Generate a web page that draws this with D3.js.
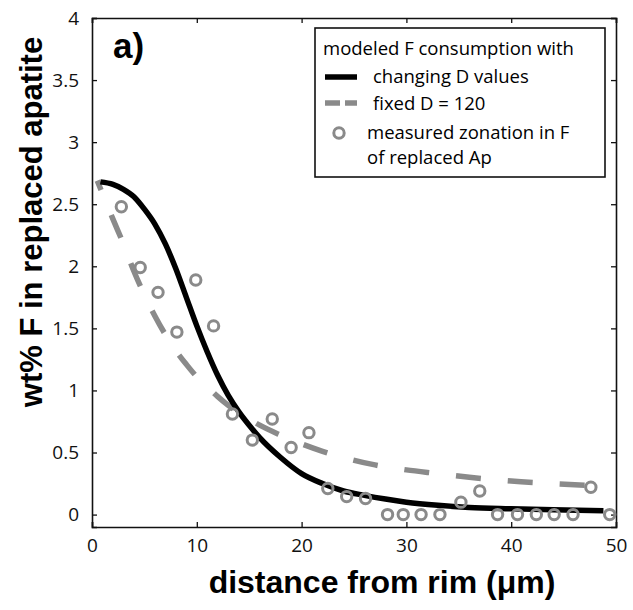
<!DOCTYPE html>
<html lang="en">
  <head>
    <meta charset="utf-8">
    <title>F consumption</title>
    <script src="https://d3js.org/d3.v7.min.js"></script>
    <style>
      body { margin: 0; background: #fff; }
    </style>
  </head>
<body>
  <svg id="chart" width="633" height="610"></svg>
  <script>
    // measured zonation (circles)
    var measX = [2.8, 4.6, 6.3, 8.1, 9.9, 11.6, 13.4, 15.3, 17.2, 19.0, 20.7, 22.5, 24.3, 26.1,
                 28.2, 29.7, 31.4, 33.2, 35.2, 37.0, 38.7, 40.6, 42.4, 44.1, 45.9, 47.6, 49.4];
    var measY = [2.48, 1.99, 1.79, 1.47, 1.89, 1.52, 0.81, 0.60, 0.77, 0.54, 0.66, 0.21, 0.145, 0.13,
                 0, 0, 0, 0, 0.10, 0.19, 0, 0, 0, 0, 0, 0.22, 0];

    // model with changing D values (black)
    var changingX = [0.8, 2, 3, 4, 5, 6, 7, 8, 9, 10, 11, 12, 13, 14, 15, 16, 18, 20, 22, 24, 26, 28, 30, 33, 36, 40, 44, 48.8];
    var changingY = [2.68, 2.66, 2.62, 2.56, 2.46, 2.34, 2.18, 1.98, 1.75, 1.52, 1.31, 1.12, 0.96, 0.83, 0.72, 0.62,
                     0.46, 0.33, 0.25, 0.19, 0.155, 0.125, 0.10, 0.075, 0.058, 0.047, 0.038, 0.03];

    // model with fixed D = 120 (dashed gray)
    var fixedX = [0.5, 2, 3, 4, 5, 6, 7, 8, 9, 10, 11, 12, 13, 14, 15, 16, 18, 20, 22, 24, 27, 30, 33, 36, 40, 44, 48.8];
    var fixedY = [2.69, 2.38, 2.18, 1.96, 1.77, 1.60, 1.45, 1.32, 1.21, 1.11, 1.03, 0.95, 0.88, 0.82, 0.77, 0.72,
                  0.64, 0.57, 0.51, 0.46, 0.40, 0.36, 0.33, 0.30, 0.27, 0.25, 0.23];

    var xTicks = [0, 10, 20, 30, 40, 50];
    var yTicks = [0, 0.5, 1, 1.5, 2, 2.5, 3, 3.5, 4];

    var legendLines = ["changing D values", "fixed D = 120"];
    var legendCircle = ["measured zonation in F", "of replaced Ap"];

    var gray = "#8a8a8a";
    var svg = d3.select("#chart");
    var plotL = 92, plotR = 616, plotT = 18, plotB = 527;

    var x = d3.scaleLinear().domain([0, 50]).range([plotL, plotR]);
    var y = d3.scaleLinear().domain([-0.1, 4]).range([plotB, plotT]);

    // axes, MATLAB style: ticks inside, on all four sides
    var axes = [
      svg.append("g").attr("transform", "translate(0," + plotB + ")")
        .call(d3.axisBottom(x).tickValues(xTicks).tickSize(-5).tickPadding(12).tickFormat(d3.format("d"))),
      svg.append("g").attr("transform", "translate(0," + plotT + ")")
        .call(d3.axisTop(x).tickValues(xTicks).tickSize(-5).tickFormat("")),
      svg.append("g").attr("transform", "translate(" + plotL + ",0)")
        .call(d3.axisLeft(y).tickValues(yTicks).tickSize(-5).tickPadding(13).tickFormat(d3.format(""))),
      svg.append("g").attr("transform", "translate(" + plotR + ",0)")
        .call(d3.axisRight(y).tickValues(yTicks).tickSize(-5).tickFormat(""))
    ];
    axes.forEach(function (g) {
      g.attr("font-family", "Open Sans, sans-serif").attr("font-size", 19);
      g.select(".domain").attr("stroke", "#111").attr("stroke-width", 1.6);
      g.selectAll(".tick line").attr("stroke", "#111").attr("stroke-width", 1.3);
      g.selectAll(".tick text").attr("fill", "#111");
    });

    var line = d3.line().curve(d3.curveMonotoneX);

    svg.append("path")
      .attr("d", line(fixedX.map(function (d, i) { return [x(d), y(fixedY[i])]; })))
      .attr("fill", "none")
      .attr("stroke", gray)
      .attr("stroke-width", 5.5)
      .attr("stroke-dasharray", "25,27")
      .attr("stroke-dashoffset", 15);

    svg.append("path")
      .attr("d", line(changingX.map(function (d, i) { return [x(d), y(changingY[i])]; })))
      .attr("fill", "none")
      .attr("stroke", "#000")
      .attr("stroke-width", 5.5);

    svg.selectAll(".meas")
      .data(measX)
      .enter().append("circle")
      .attr("cx", function (d) { return x(d); })
      .attr("cy", function (d, i) { return y(measY[i]); })
      .attr("r", 5.2)
      .attr("fill", "none")
      .attr("stroke", gray)
      .attr("stroke-width", 3);

    // panel letter
    svg.append("text")
      .attr("x", 113).attr("y", 58)
      .style("font-family", "Liberation Sans, Arial, sans-serif")
      .style("font-weight", "bold").style("font-size", "35px")
      .text("a)");

    // legend
    var lg = svg.append("g").style("font-family", "Open Sans, sans-serif").style("font-size", "18.5px");
    lg.append("rect").attr("x", 315).attr("y", 28).attr("width", 290).attr("height", 149)
      .attr("fill", "#fff").attr("stroke", "#111").attr("stroke-width", 1.6);
    lg.append("text").attr("x", 323).attr("y", 55).text("modeled F consumption with");
    lg.append("line").attr("x1", 325).attr("x2", 357).attr("y1", 77).attr("y2", 77)
      .attr("stroke", "#000").attr("stroke-width", 5.5);
    lg.append("line").attr("x1", 325).attr("x2", 357).attr("y1", 103).attr("y2", 103)
      .attr("stroke", gray).attr("stroke-width", 5.5).attr("stroke-dasharray", "15,5");
    lg.selectAll(".ll").data(legendLines).enter().append("text")
      .attr("x", 373).attr("y", function (d, i) { return 83 + i * 27; })
      .text(function (d) { return d; });
    lg.append("circle").attr("cx", 339).attr("cy", 133).attr("r", 5.2)
      .attr("fill", "none").attr("stroke", gray).attr("stroke-width", 3);
    lg.selectAll(".lc").data(legendCircle).enter().append("text")
      .attr("x", 367).attr("y", function (d, i) { return 139 + i * 25; })
      .text(function (d) { return d; });

    // axis titles
    svg.append("text")
      .attr("x", 382).attr("y", 593)
      .attr("text-anchor", "middle")
      .style("font-family", "Liberation Sans, Arial, sans-serif")
      .style("font-weight", "bold").style("font-size", "32px")
      .text("distance from rim (\u03bcm)");
    svg.append("text")
      .attr("transform", "translate(42,222) rotate(-90)")
      .attr("text-anchor", "middle")
      .style("font-family", "Liberation Sans, Arial, sans-serif")
      .style("font-weight", "bold").style("font-size", "31px")
      .text("wt% F in replaced apatite");
  </script>
</body>
</html>
